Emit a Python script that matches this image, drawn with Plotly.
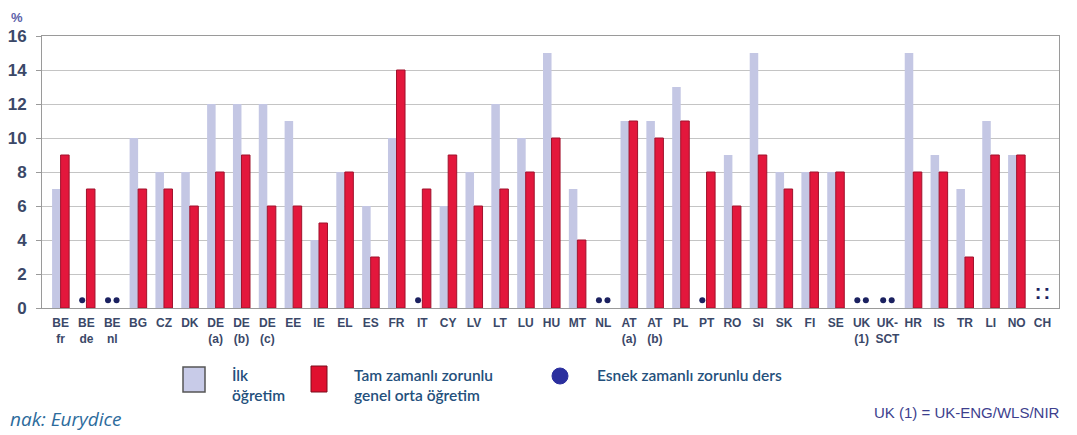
import plotly.graph_objects as go

categories = ["BE<br>fr", "BE<br>de", "BE<br>nl", "BG", "CZ", "DK", "DE<br>(a)", "DE<br>(b)", "DE<br>(c)",
              "EE", "IE", "EL", "ES", "FR", "IT", "CY", "LV", "LT", "LU", "HU", "MT", "NL",
              "AT<br>(a)", "AT<br>(b)", "PL", "PT", "RO", "SI", "SK", "FI", "SE", "UK<br>(1)", "UK-<br>SCT",
              "HR", "IS", "TR", "LI", "NO", "CH"]

primary = [7, None, None, 10, 8, 8, 12, 12, 12,
           11, 4, 8, 6, 10, None, 6, 8, 12, 10, 15, 7, None,
           11, 11, 13, None, 9, 15, 8, 8, 8, None, None,
           15, 9, 7, 11, 9, None]

secondary = [9, 7, None, 7, 7, 6, 8, 9, 6,
             6, 5, 8, 3, 14, 7, 9, 6, 7, 8, 10, 4, None,
             11, 10, 11, 8, 6, 9, 7, 8, 8, None, None,
             8, 8, 3, 9, 9, None]

# flexible compulsory lessons (dot markers), per position in the group
flex_primary = ["BE<br>de", "BE<br>nl", "IT", "NL", "PT", "UK<br>(1)", "UK-<br>SCT"]
flex_secondary = ["BE<br>nl", "NL", "UK<br>(1)", "UK-<br>SCT"]
not_available = ["CH"]

FLEX_LEVEL = 0.45
NA_LEVEL = 0.8

LIGHT = "#c4c7e4"
RED = "#e3173c"
NAVY = "#1b2160"
AXIS_TXT = "#3b4868"

# page body has an 8px margin; plot area in page pixels: x 42..1059, y 36..308
W, H = 1069, 427
PL, PR, PT, PB = 42, 1059, 36, 308


def px(x):
    return (x - PL) / (PR - PL)


def py(y):
    return (PB - y) / (PB - PT)


fig = go.Figure()
fig.add_trace(go.Bar(x=categories, y=primary, name="İlk öğretim", offsetgroup="p",
                     marker=dict(color=LIGHT, line=dict(width=0)), showlegend=False))
fig.add_trace(go.Bar(x=categories, y=secondary, name="Tam zamanlı zorunlu genel orta öğretim",
                     offsetgroup="s",
                     marker=dict(color=RED, line=dict(width=1, color="#a0122c")), showlegend=False))
fig.add_trace(go.Scatter(x=flex_primary, y=[FLEX_LEVEL] * len(flex_primary), mode="markers",
                         offsetgroup="p", marker=dict(color=NAVY, size=6), showlegend=False,
                         cliponaxis=False))
fig.add_trace(go.Scatter(x=flex_secondary, y=[FLEX_LEVEL] * len(flex_secondary), mode="markers",
                         offsetgroup="s", marker=dict(color=NAVY, size=6), showlegend=False,
                         cliponaxis=False))
fig.add_trace(go.Scatter(x=not_available, y=[NA_LEVEL] * len(not_available), mode="text", text=["<b>:</b>"],
                         offsetgroup="p", textfont=dict(color=NAVY, size=20, family="Liberation Sans"),
                         showlegend=False))
fig.add_trace(go.Scatter(x=not_available, y=[NA_LEVEL] * len(not_available), mode="text", text=["<b>:</b>"],
                         offsetgroup="s", textfont=dict(color=NAVY, size=20, family="Liberation Sans"),
                         showlegend=False))

fig.update_layout(
    width=W, height=H,
    margin=dict(l=PL - 8, r=W - (PR - 8), t=PT - 8, b=H - (PB - 8)),
    paper_bgcolor="white", plot_bgcolor="white",
    barmode="group", scattermode="group", bargap=0.34, bargroupgap=0,
    font=dict(family="Liberation Sans", color=AXIS_TXT),
)
fig.update_yaxes(range=[0, 16], dtick=2, showgrid=True, gridcolor="#c4c4c4", gridwidth=1,
                 showline=True, linecolor="#9a9a9a", linewidth=1, mirror=True,
                 ticks="outside", ticklen=5, tickcolor="#9a9a9a", zeroline=False,
                 tickfont=dict(family="Liberation Sans", size=17, color=AXIS_TXT, weight="bold"),
                 ticklabelstandoff=6, automargin=False)
fig.update_xaxes(type="category", range=[-0.72, len(categories) - 1 + 0.64],
                 showline=True, linecolor="#9a9a9a", linewidth=1, mirror=True,
                 ticks="", showgrid=False,
                 tickfont=dict(family="Liberation Sans", size=12, color=AXIS_TXT, weight="bold"),
                 tickangle=0, ticklabelstandoff=4, automargin=False)

fig.add_annotation(xref="paper", yref="paper", x=px(17), y=py(17), xanchor="center", yanchor="middle",
                   text="<b>%</b>", showarrow=False,
                   font=dict(family="Liberation Sans", size=13, color="#5c5fa8"))

LEG_TXT = "#24507c"
LEG_FONT = dict(family="Lato", size=15.5, color=LEG_TXT, weight=600)
# legend: squares and circle
fig.add_shape(type="rect", xref="paper", yref="paper",
              x0=px(183), x1=px(205), y0=py(392), y1=py(367),
              fillcolor="#c8cbe8", line=dict(color="#555555", width=1.5))
fig.add_shape(type="rect", xref="paper", yref="paper",
              x0=px(311), x1=px(327), y0=py(392), y1=py(366),
              fillcolor="#e0102f", line=dict(color="#7a0d1c", width=1))
fig.add_shape(type="circle", xref="paper", yref="paper",
              x0=px(552), x1=px(568), y0=py(384), y1=py(368),
              fillcolor="#2b2f9e", line=dict(color="#2b2f9e", width=1))
fig.add_annotation(xref="paper", yref="paper", x=px(230), y=py(364),
                   xanchor="left", yanchor="top", align="left", showarrow=False,
                   text="İlk<br>öğretim", font=LEG_FONT)
fig.add_annotation(xref="paper", yref="paper", x=px(352), y=py(364),
                   xanchor="left", yanchor="top", align="left", showarrow=False,
                   text="Tam zamanlı zorunlu<br>genel orta öğretim", font=LEG_FONT)
fig.add_annotation(xref="paper", yref="paper", x=px(595), y=py(364),
                   xanchor="left", yanchor="top", align="left", showarrow=False,
                   text="Esnek zamanlı zorunlu ders", font=LEG_FONT)
fig.add_annotation(xref="paper", yref="paper", x=px(1062), y=py(412),
                   xanchor="right", yanchor="middle", showarrow=False,
                   text="UK (1) = UK-ENG/WLS/NIR",
                   font=dict(family="Liberation Sans", size=15, color="#3d3f8e"))
fig.add_annotation(xref="paper", yref="paper", x=px(8), y=py(419),
                   xanchor="left", yanchor="middle", showarrow=False,
                   text="<i>nak: Eurydice</i>",
                   font=dict(family="Open Sans", size=19, color="#2c6b9c"))

fig.write_html("out.html")
